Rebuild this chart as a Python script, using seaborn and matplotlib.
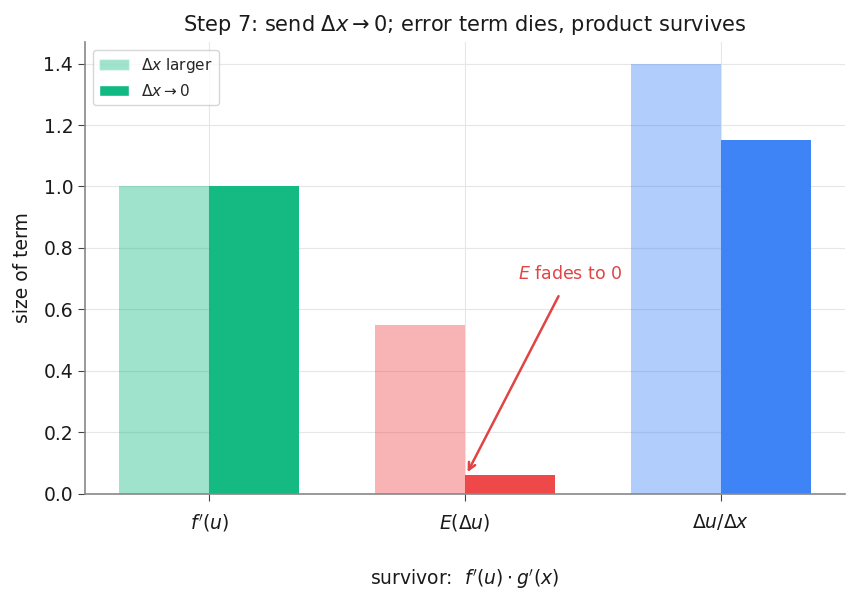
import pandas as pd
import seaborn as sns
import matplotlib.pyplot as plt
from matplotlib.patches import Patch

# значения членов при большом и малом dx
terms = ["$f'(u)$", "$E(\\Delta u)$", "$\\Delta u/\\Delta x$"]
larger = [1.0, 0.55, 1.40]
limit = [1.0, 0.06, 1.15]
states = ["$\\Delta x$ larger", "$\\Delta x \\to 0$"]
colors = ["#10b981", "#ef4444", "#3b82f6"]

df = pd.DataFrame({
    "term": terms * 2,
    "size": larger + limit,
    "state": [states[0]] * 3 + [states[1]] * 3,
})

sns.set_style("whitegrid")
plt.rcParams['font.family'] = ['DejaVu Sans']
fig, ax = plt.subplots(figsize=(8.58, 6.02), dpi=100)

sns.barplot(data=df, x="term", y="size", hue="state", width=0.7,
            dodge=True, ax=ax, legend=False, errorbar=None)

# перекрашиваем: светлые для большого dx, тёмные для предела
bars = ax.patches
for i, p in enumerate(bars[:6]):
    k = i % 3
    p.set_facecolor(colors[k])
    p.set_edgecolor("none")
    p.set_alpha(0.4 if i < 3 else 0.98)

ax.set_ylim(0, 1.47)
ax.set_xlim(-0.485, 2.485)
ax.grid(True, color="#e6e6e6", linewidth=0.8)
ax.set_axisbelow(True)
for s in ["top", "right"]:
    ax.spines[s].set_visible(False)
for s in ["left", "bottom"]:
    ax.spines[s].set_color("#888888")
    ax.spines[s].set_linewidth(1.2)
ax.tick_params(axis="both", labelsize=13.5, colors="#1a1a1a", length=5,
               color="#444444", left=True, bottom=True)
ax.tick_params(axis="x", pad=8)

ax.set_ylabel("size of term", fontsize=13.5, labelpad=8, color="#1a1a1a")
ax.set_xlabel("survivor:  $f'(u)\\cdot g'(x)$", fontsize=13.5, labelpad=24,
              color="#1a1a1a")
ax.set_title("Step 7: send $\\Delta x \\to 0$; error term dies, product survives",
             fontsize=15, pad=8, color="#1a1a1a")

ax.annotate("$E$ fades to 0", xy=(1.01, 0.07), xytext=(1.41, 0.715),
            ha="center", va="center", fontsize=12.5, color="#e04444",
            arrowprops=dict(arrowstyle="->", color="#e04444", lw=1.8,
                            shrinkA=8, shrinkB=0))

handles = [Patch(facecolor=colors[0], alpha=0.4, label=states[0]),
           Patch(facecolor=colors[0], label=states[1])]
ax.legend(handles=handles, loc="upper left", fontsize=11, frameon=True,
          edgecolor="#cccccc", borderaxespad=0.5)

plt.subplots_adjust(left=0.099, right=0.985, top=0.93, bottom=0.18)
plt.savefig("out.png", dpi=100)
